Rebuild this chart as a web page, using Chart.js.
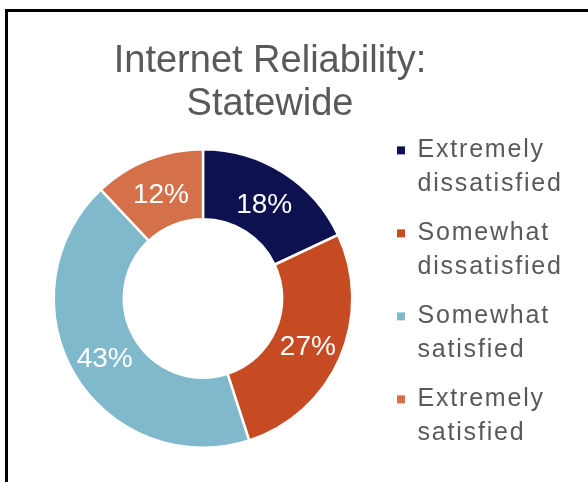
<!DOCTYPE html>
<html>
<head>
<meta charset="utf-8">
<script src="https://cdn.jsdelivr.net/npm/chart.js@4.4.1/dist/chart.umd.min.js"></script>
<style>
  html, body { margin: 0; padding: 0; background: #fff; overflow: hidden; }
  #frame { position: absolute; left: 5px; top: 9px; width: 640px; height: 540px; border: 3px solid #000; box-sizing: border-box; }
  #wrap { position: absolute; left: 0; top: 0; width: 588px; height: 482px; }
</style>
</head>
<body>
<div id="frame"></div>
<div id="wrap"><canvas id="donut" width="588" height="482"></canvas></div>
<script>
const categories = ['Extremely dissatisfied', 'Somewhat dissatisfied', 'Somewhat satisfied', 'Extremely satisfied'];
const shares = [18, 27, 43, 12];
const sliceColors = ['#0e1150', '#c74b22', '#80b9cc', '#d4704a'];
const titleLines = ['Internet Reliability:', 'Statewide'];

const FONT = '"Liberation Sans", Arial, sans-serif';

// percentages written in the middle of each ring segment
const valueLabels = {
  id: 'valueLabels',
  afterDatasetsDraw(chart) {
    const ctx = chart.ctx;
    ctx.save();
    ctx.font = '28px ' + FONT;
    ctx.fillStyle = '#fff';
    ctx.textAlign = 'center';
    ctx.textBaseline = 'middle';
    chart.getDatasetMeta(0).data.forEach((arc, i) => {
      const p = arc.tooltipPosition();
      ctx.fillText(shares[i] + '%', p.x, p.y + 3);
    });
    ctx.restore();
  }
};

// legend sits level with the ring, runs past the title's right margin,
// and its text is set a little wider
const wideLegend = {
  id: 'wideLegend',
  afterLayout(chart) {
    const legend = chart.legend;
    if (!legend) return;
    legend.top = chart.chartArea.top - 25;
    legend.bottom = chart.height;
    legend.height = legend.bottom - legend.top;
    legend.right = chart.width;
    legend.width = legend.right - legend.left;
    if (legend._spaced) return;
    const draw = legend.draw.bind(legend);
    legend.draw = function(area) {
      chart.ctx.letterSpacing = '1.8px';
      draw(area);
      chart.ctx.letterSpacing = '0px';
    };
    legend._spaced = true;
  }
};

new Chart(document.getElementById('donut'), {
  type: 'doughnut',
  data: {
    labels: categories,
    datasets: [{
      data: shares,
      backgroundColor: sliceColors,
      borderColor: '#fff',
      borderWidth: 2.5
    }]
  },
  options: {
    responsive: false,
    devicePixelRatio: 1,
    animation: false,
    cutout: '53%',
    layout: { padding: { left: 24, right: 72, top: 0, bottom: 33 } },
    plugins: {
      title: {
        display: true,
        text: titleLines,
        color: '#595959',
        font: { family: FONT, size: 38, weight: 'normal', lineHeight: 1.13 },
        padding: { top: 40, bottom: 22 }
      },
      legend: {
        position: 'right',
        align: 'start',
        maxWidth: 134,
        labels: {
          boxWidth: 8,
          boxHeight: 8,
          padding: 15,
          color: '#595959',
          font: { family: FONT, size: 25, lineHeight: 1.36 },
          generateLabels(chart) {
            const items = Chart.overrides.doughnut.plugins.legend.labels.generateLabels(chart);
            items.forEach((item, i) => {
              item.text = categories[i].split(' ');
              item.lineWidth = 0;
              item.strokeStyle = sliceColors[i];
            });
            return items;
          }
        }
      },
      tooltip: { enabled: false }
    }
  },
  plugins: [valueLabels, wideLegend]
});
</script>
</body>
</html>
